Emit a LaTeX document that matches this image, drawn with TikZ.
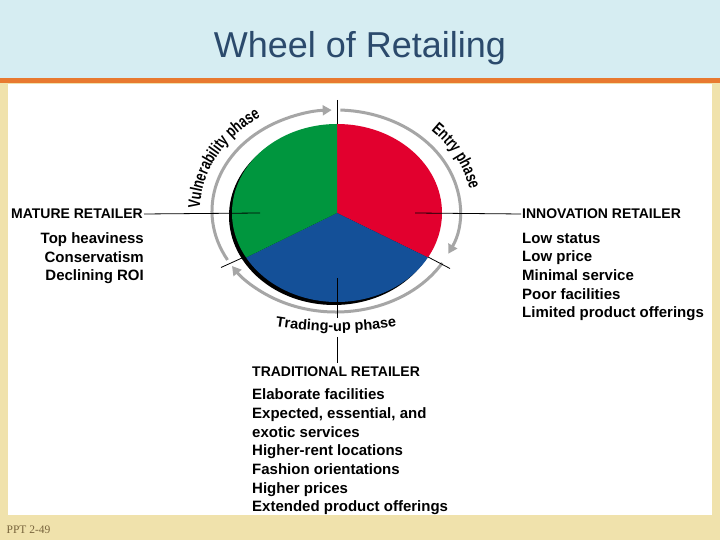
\documentclass[tikz,border=0pt]{standalone}
\usepackage{fontspec}
\setmainfont{Liberation Sans}
\newfontfamily\narrowsans[FakeStretch=0.74]{Liberation Sans}
\newfontfamily\slideserif{Liberation Serif}
\usepackage{tikz}
\usetikzlibrary{arrows.meta, decorations.text}
\definecolor{headblue}{RGB}{214,237,242}
\definecolor{rulorange}{RGB}{232,121,48}
\definecolor{framebeige}{RGB}{240,226,172}
\definecolor{titleblue}{RGB}{43,74,108}
\definecolor{wheelred}{RGB}{226,0,46}
\definecolor{wheelgreen}{RGB}{0,150,62}
\definecolor{wheelblue}{RGB}{20,80,152}
\definecolor{ringgray}{RGB}{166,166,166}
\definecolor{pptbrown}{RGB}{120,100,60}
\newcommand{\phf}{\narrowsans\bfseries\fontsize{17}{17}\selectfont}
\newcommand{\trf}{\bfseries\fontsize{14.5}{14.5}\selectfont}

\begin{document}
\begin{tikzpicture}[x=1pt,y=1pt]
\tikzset{
  hdr/.style={font=\bfseries\fontsize{14}{17}\selectfont,inner sep=1pt},
  txt/.style={font=\bfseries\fontsize{15}{18.7}\selectfont,inner sep=0pt},
  ln/.style={draw=black,line width=0.8pt},
  rng/.style={draw=ringgray,line width=3pt,-{Triangle[length=9pt,width=10pt]}},
  phs/.style={decorate,decoration={text along path,text align=center,text={#1}}}
}
\useasboundingbox (0,0) rectangle (720,540);
% slide
\fill[framebeige] (0,0) rectangle (720,457);
\fill[white] (8,25) rectangle (712,456);
\fill[headblue] (0,462) rectangle (720,540);
\fill[rulorange] (0,457) rectangle (720,462);
\node[font=\fontsize{36}{36}\selectfont,text=titleblue,anchor=base] (title) at (360,482.7) {Wheel of Retailing};
\node[font=\slideserif\fontsize{11.5}{11.5}\selectfont,text=pptbrown,anchor=base west,inner sep=0pt] (ppt) at (6.5,6.7) {PPT 2-49};
% wheel
\coordinate (c) at (337,327);
\coordinate (rc) at (336,329);
\coordinate (tc) at (336,333);
\fill[black] ([shift={(-3,-3)}]c) ellipse[x radius=105,y radius=89];
\fill[wheelred] (c) -- ([shift={(90:105 and 89)}]c) arc[start angle=90,end angle=-30,x radius=105,y radius=89] -- cycle;
\fill[wheelblue] (c) -- ([shift={(-30:105 and 89)}]c) arc[start angle=-30,end angle=-150,x radius=105,y radius=89] -- cycle;
\fill[wheelgreen] (c) -- ([shift={(210:105 and 89)}]c) arc[start angle=210,end angle=90,x radius=105,y radius=89] -- cycle;
\draw[rng] ([shift={(209:124 and 101)}]rc) arc[start angle=209,end angle=92,x radius=124,y radius=101];
\draw[rng] ([shift={(88:124 and 101)}]rc) arc[start angle=88,end angle=-25,x radius=124,y radius=101];
\draw[rng] ([shift={(-31:124 and 101)}]rc) arc[start angle=-31,end angle=-147,x radius=124,y radius=101];
\path[phs={|\phf|Vulnerability phase}] ([shift={(204:136 and 113)}]rc) arc[start angle=204,end angle=102,x radius=136,y radius=113];
\path[phs={|\phf|Entry phase}] ([shift={(77:136 and 113)}]rc) arc[start angle=77,end angle=-25,x radius=136,y radius=113];
\path[phs={|\trf|Trading-up phase}] ([shift={(-125:220 and 124)}]tc) arc[start angle=-125,end angle=-55,x radius=220,y radius=124];
% retailer labels
\node[hdr,anchor=east] (mature) at (144,326) {MATURE RETAILER};
\node[txt,anchor=north east,align=right] (maturetx) at (144,307.5) {Top heaviness\\Conservatism\\Declining ROI};
\node[hdr,anchor=west] (innov) at (521,326) {INNOVATION RETAILER};
\node[txt,anchor=north west,align=left] (innovtx) at (522,307.5) {Low status\\Low price\\Minimal service\\Poor facilities\\Limited product offerings};
\node[hdr,anchor=west] (trad) at (251,168) {TRADITIONAL RETAILER};
\node[txt,anchor=north west,align=left] (tradtx) at (252,151.4) {Elaborate facilities\\Expected, essential, and\\exotic services\\Higher-rent locations\\Fashion orientations\\Higher prices\\Extended product offerings};
% connectors
\coordinate (ml) at (260,327);
\coordinate (rl) at (415,327);
\coordinate (tt) at (337,440);
\coordinate (pt) at (337,416);
\coordinate (bl) at (337,262);
\coordinate (tu1) at (337,222);
\coordinate (tu2) at (337,203);
\coordinate (tla) at (221,272.5);
\coordinate (tlb) at (242,282);
\coordinate (tra) at (428,283);
\coordinate (trb) at (450,271.5);
\draw[ln] (mature.east) -- (ml);
\draw[ln] (rl) -- (innov.west);
\draw[ln] (tt) -- (pt);
\draw[ln] (bl) -- (tu1);
\draw[ln,shorten >=3pt] (tu2) -- (trad.north -| tu2);
\draw[ln] (tla) -- (tlb);
\draw[ln] (tra) -- (trb);
\end{tikzpicture}
\end{document}
